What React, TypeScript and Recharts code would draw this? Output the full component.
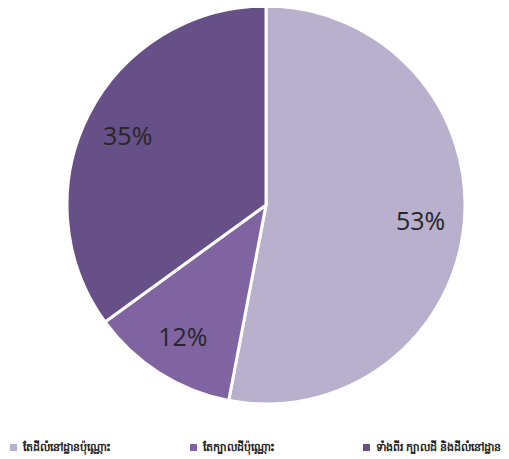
import React from "react";
import { PieChart, Pie, Cell, Legend } from "recharts";

const categories = [
  "តែដីលំនៅដ្ឋានប៉ុណ្ណោះ",
  "តែក្បាលដីប៉ុណ្ណោះ",
  "ទាំងពីរ ក្បាលដី និងដីលំនៅដ្ឋាន",
];
const values = [53, 12, 35];
const colors = ["#b8b0cc", "#8064a2", "#674f87"];

const data = categories.map((name, i) => ({ name, value: values[i] }));

const RAD = Math.PI / 180;

const renderLabel = (props: any) => {
  const { cx, cy, midAngle, outerRadius, value } = props;
  const r = outerRadius * 0.78;
  const x = cx + r * Math.cos(-midAngle * RAD);
  const y = cy + r * Math.sin(-midAngle * RAD);
  return (
    <text
      x={x}
      y={y}
      fill="#262626"
      fontSize={25}
      fontFamily="'Open Sans', 'Liberation Sans', sans-serif"
      textAnchor="middle"
      dominantBaseline="central"
    >
      {value}%
    </text>
  );
};

const legendX = [2, 182, 355];

const renderLegend = () => (
  <div style={{ position: "relative", width: 501, height: 24 }}>
    {categories.map((c, i) => (
      <div
        key={c}
        style={{
          position: "absolute",
          left: legendX[i],
          top: 6,
          display: "flex",
          alignItems: "center",
          fontSize: 11,
          fontWeight: "bold",
          color: "#222",
          fontFamily: "'Noto Sans', 'DejaVu Sans', sans-serif",
          whiteSpace: "nowrap",
        }}
      >
        <span
          style={{
            display: "inline-block",
            width: 7,
            height: 7,
            background: colors[i],
            marginRight: 6,
          }}
        />
        {c}
      </div>
    ))}
  </div>
);

export default function App() {
  return (
    <PieChart width={501} height={451}>
      <Pie
        data={data}
        dataKey="value"
        nameKey="name"
        cx={253}
        cy={192}
        outerRadius={199}
        startAngle={90}
        endAngle={-270}
        stroke="#ffffff"
        strokeWidth={3}
        label={renderLabel}
        labelLine={false}
        isAnimationActive={false}
      >
        {data.map((d, i) => (
          <Cell key={d.name} fill={colors[i]} />
        ))}
      </Pie>
      <Legend
        content={renderLegend}
        wrapperStyle={{ left: 0, top: 425, width: 501 }}
      />
    </PieChart>
  );
}
